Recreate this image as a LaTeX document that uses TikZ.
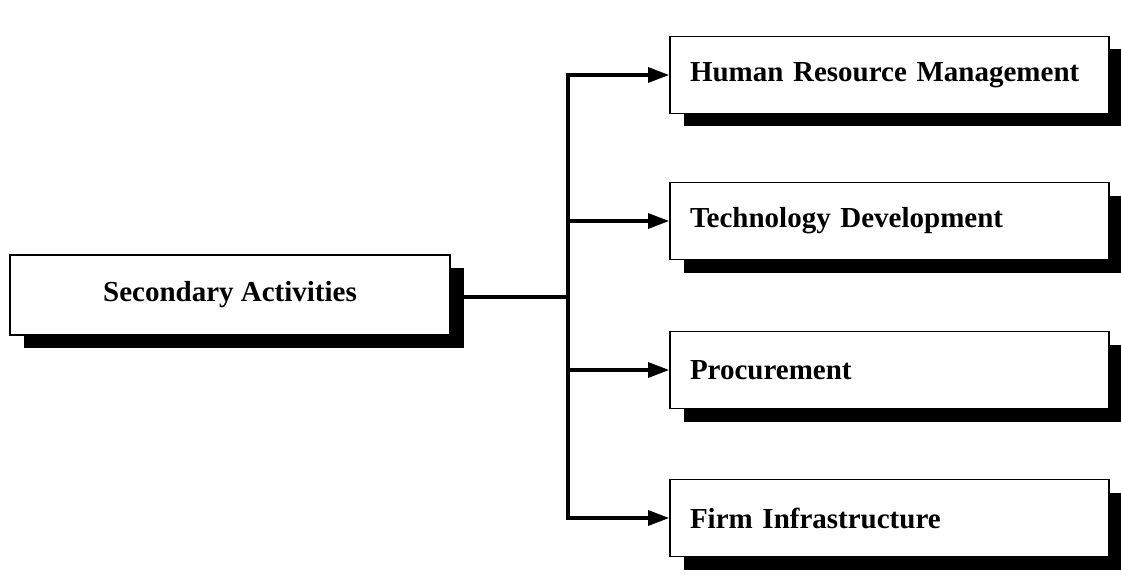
\documentclass[tikz,border=0pt]{standalone}
\usepackage{fontspec}
\setmainfont{Liberation Serif}
\usetikzlibrary{arrows.meta,shadows}
\begin{document}
\begin{tikzpicture}[x=1pt,y=-1pt,
  boxbase/.style={draw=black,line width=1.8pt,fill=white,
    font=\fontsize{29}{32}\selectfont\bfseries,
    general shadow={fill=black,shadow xshift=14pt,shadow yshift=-13pt}},
  secbox/.style={boxbase,minimum width=440pt,minimum height=80pt,inner sep=0pt},
  actbox/.style={boxbase,text width=399pt,inner xsep=20pt,inner ysep=0pt,
    minimum height=77pt,align=left},
  conn/.style={line width=3.2pt,line cap=rect},
  arr/.style={line width=3.2pt,-{Triangle[length=21pt,width=15pt]}}]
\useasboundingbox (0,0) rectangle (1121,575);
\node[secbox] (sec) at (230,295) {Secondary Activities};
\node[actbox] (hrm) at (889.5,75) {Human Resource Management};
\node[actbox] (tech) at (889.5,221) {Technology Development};
\node[actbox] (proc) at (889.5,370) {Procurement};
\node[actbox] (firm) at (889.5,518) {Firm Infrastructure};
\coordinate (j) at (568,297);
\draw[conn] ([xshift=14pt]sec.east |- j) -- (j);
\draw[conn] (j |- hrm.west) -- (j |- firm.west);
\foreach \b in {hrm,tech,proc,firm}
  \draw[arr] (j |- \b.west) -- (\b.west);
\end{tikzpicture}
\end{document}
